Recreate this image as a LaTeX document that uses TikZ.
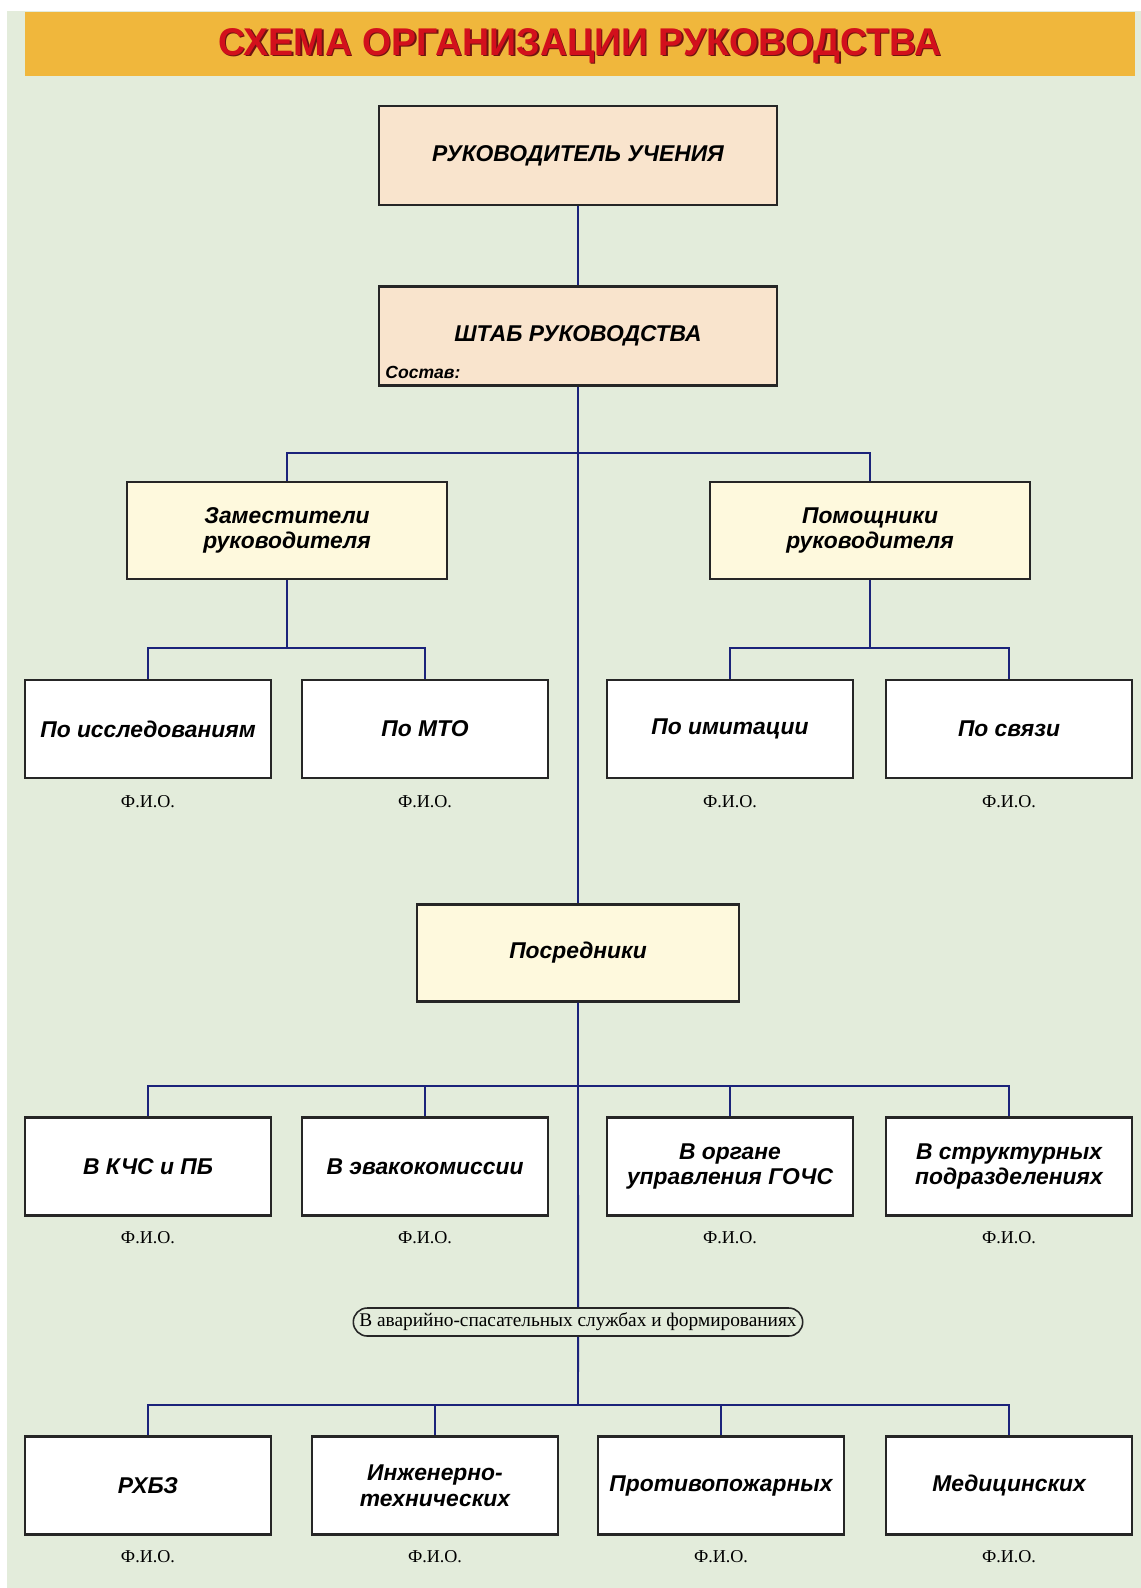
\documentclass[tikz,border=0pt]{standalone}
\usepackage{fontspec}
\setmainfont{Liberation Sans}
\newfontfamily\serifru{Liberation Serif}
\usetikzlibrary{shapes.misc}

\definecolor{bggreen}{HTML}{E3ECDB}
\definecolor{bandorange}{HTML}{F0B73C}
\definecolor{titlered}{HTML}{D2101C}
\definecolor{titleshade}{HTML}{6E1410}
\definecolor{peach}{HTML}{F9E4CD}
\definecolor{cream}{HTML}{FEF9DD}
\definecolor{linkblue}{HTML}{1B237A}

\tikzset{
  box/.style={draw=black!85, line width=1.2pt, fill=white, minimum width=4.92cm,
    minimum height=1.96cm, align=center, inner sep=2pt,
    font=\fontsize{13}{14.5}\selectfont\bfseries\itshape},
  boss/.style={box, fill=peach, minimum width=7.96cm, minimum height=1.98cm},
  mid/.style={box, fill=cream, minimum width=6.4cm, minimum height=1.94cm},
  fio/.style={font=\serifru\fontsize{10.3}{12}\selectfont},
  link/.style={draw=linkblue, line width=1.1pt},
  titletext/.style={font=\fontsize{22}{24}\selectfont\bfseries, inner sep=0pt},
}

\begin{document}
\begin{tikzpicture}[x=0.02cm, y=-0.02cm]
\useasboundingbox (0,0) rectangle (1141,1588);
\fill[bggreen] (7,11) rectangle (1141,1588);
\fill[bandorange] (25,12) rectangle (1135,76);
\node[titletext, text=titleshade] (titleshadow) at (581.3,47) {\scalebox{0.97}[1.0]{СХЕМА ОРГАНИЗАЦИИ РУКОВОДСТВА}};
\node[titletext, text=titlered] (title) at (580,45.5) {\scalebox{0.97}[1.0]{СХЕМА ОРГАНИЗАЦИИ РУКОВОДСТВА}};

\node[boss] (ruk) at (578,155.5) {РУКОВОДИТЕЛЬ УЧЕНИЯ};
\node[boss] (shtab) at (578,336) {ШТАБ РУКОВОДСТВА};
\node[anchor=south west, inner sep=0pt, font=\fontsize{10}{11}\selectfont\bfseries\itshape] (sostav) at (385,379) {Состав:};

\node[mid] (zam) at (287,530.5) {Заместители\\руководителя};
\node[mid] (pom) at (870,530.5) {Помощники\\руководителя};

\node[box] (issl) at (148,729) {По исследованиям};
\node[box] (mto) at (425,729) {По МТО};
\node[box] (imit) at (730,729) {По имитации};
\node[box] (svyaz) at (1009,729) {По связи};

\node[mid, minimum width=6.44cm] (posr) at (578,953) {Посредники};

\node[box] (kchs) at (148,1166.5) {В КЧС и ПБ};
\node[box] (evak) at (425,1166.5) {В эвакокомиссии};
\node[box] (gochs) at (730,1166.5) {В органе\\управления ГОЧС};
\node[box] (struct) at (1009,1166.5) {В структурных\\подразделениях};

\node[draw=black!85, line width=0.9pt, rounded rectangle, minimum width=9.06cm,
  minimum height=0.56cm, inner sep=1pt, font=\serifru\fontsize{11}{12}\selectfont] (avar) at (578,1322)
  {В аварийно-спасательных службах и формированиях};

\node[box] (rhbz) at (148,1485.5) {РХБЗ};
\node[box] (inzh) at (435,1485.5) {Инженерно-\\технических};
\node[box] (pozh) at (721,1485.5) {Противопожарных};
\node[box] (med) at (1009,1485.5) {Медицинских};

\node[fio] (fio1) at (148,802) {Ф.И.О.};
\node[fio] (fio2) at (425,802) {Ф.И.О.};
\node[fio] (fio3) at (730,802) {Ф.И.О.};
\node[fio] (fio4) at (1009,802) {Ф.И.О.};
\node[fio] (fio5) at (148,1238) {Ф.И.О.};
\node[fio] (fio6) at (425,1238) {Ф.И.О.};
\node[fio] (fio7) at (730,1238) {Ф.И.О.};
\node[fio] (fio8) at (1009,1238) {Ф.И.О.};
\node[fio] (fio9) at (148,1557) {Ф.И.О.};
\node[fio] (fio10) at (435,1557) {Ф.И.О.};
\node[fio] (fio11) at (721,1557) {Ф.И.О.};
\node[fio] (fio12) at (1009,1557) {Ф.И.О.};

\coordinate (j1) at (578,453);
\coordinate (j2) at (287,648);
\coordinate (j3) at (870,648);
\coordinate (j4) at (578,1086);
\coordinate (j5) at (578,1405);

\draw[link] (ruk) -- (shtab);
\draw[link] (shtab) -- (posr);
\draw[link] (zam.north) |- (j1) -| (pom.north);
\draw[link] (zam) -- (j2);
\draw[link] (issl.north) |- (j2) -| (mto.north);
\draw[link] (pom) -- (j3);
\draw[link] (imit.north) |- (j3) -| (svyaz.north);
\draw[link] (posr) -- (avar);
\foreach \n in {kchs,evak,gochs,struct}
  \draw[link] (\n.north) |- (j4);
\draw[link] (avar) -- (j5);
\foreach \n in {rhbz,inzh,pozh,med}
  \draw[link] (\n.north) |- (j5);
\end{tikzpicture}
\end{document}
